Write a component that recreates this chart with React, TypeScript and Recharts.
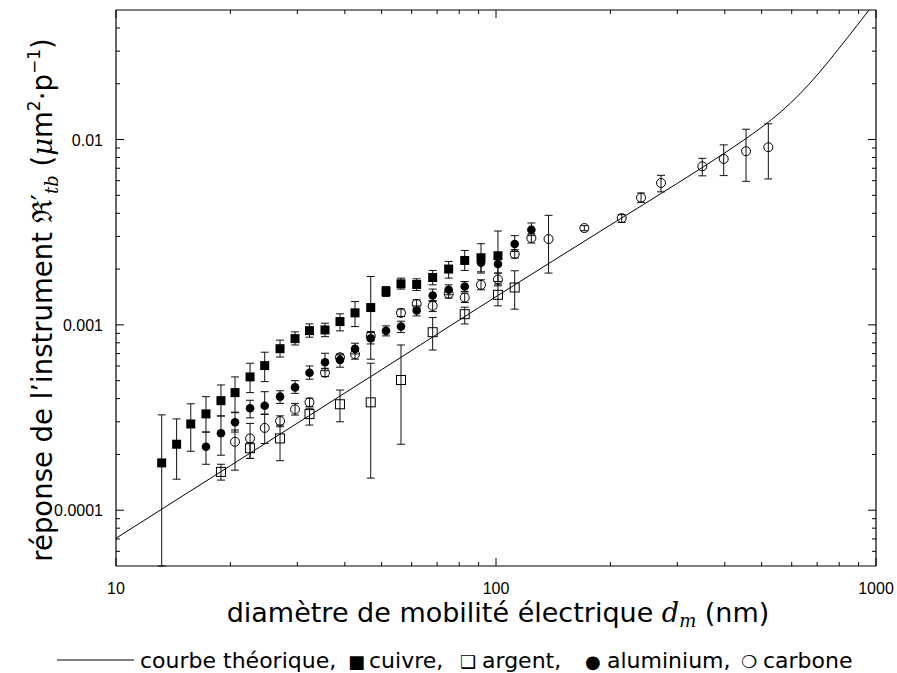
import React from 'react';
import { ComposedChart, XAxis, YAxis, Scatter, Line, ErrorBar } from 'recharts';

// ---------- tick values & labels ----------
const xTicks = [10, 20, 30, 40, 50, 60, 70, 80, 90, 100, 200, 300, 400, 500, 600, 700, 800, 900, 1000];
const xMajor = [10, 100, 1000];
const xMajorLabels = ['10', '100', '1000'];
const yTicks = [
  6e-5, 7e-5, 8e-5, 9e-5, 1e-4, 2e-4, 3e-4, 4e-4, 5e-4, 6e-4, 7e-4, 8e-4, 9e-4,
  1e-3, 2e-3, 3e-3, 4e-3, 5e-3, 6e-3, 7e-3, 8e-3, 9e-3, 1e-2, 2e-2, 3e-2, 4e-2,
];
const yMajor = [1e-4, 1e-3, 1e-2];
const yMajorLabels = ['0.0001', '0.001', '0.01'];

// ---------- theoretical curve ----------
const theoD = [10, 20, 50, 100, 200, 300, 355, 398, 447, 501, 562, 631, 708, 794, 891, 1000];
const theoR = [7.06e-5, 1.74e-4, 5.73e-4, 1.42e-3, 3.46e-3, 5.8e-3, 7.22e-3, 8.41e-3, 9.88e-3, 1.168e-2, 1.411e-2, 1.767e-2, 2.289e-2, 3.053e-2, 4.12e-2, 5.59e-2];

// ---------- cuivre ----------
const cuivreD = [13.19, 14.44, 15.73, 17.25, 18.89, 20.57, 22.53, 24.62, 27.02, 29.59, 32.3, 35.48, 38.85, 42.56, 46.81, 51.35, 56.23, 61.83, 68.13, 75.06, 82.73, 91.32, 101.2];
const cuivreR = [1.8e-4, 2.27e-4, 2.92e-4, 3.31e-4, 3.9e-4, 4.31e-4, 5.24e-4, 6.03e-4, 7.44e-4, 8.43e-4, 9.31e-4, 9.39e-4, 1.042e-3, 1.161e-3, 1.24e-3, 1.514e-3, 1.666e-3, 1.652e-3, 1.802e-3, 2.001e-3, 2.226e-3, 2.302e-3, 2.36e-3];
const cuivreLo = [5.0e-5, 1.47e-4, 2.08e-4, 2.64e-4, 3.22e-4, 3.36e-4, 4.31e-4, 4.94e-4, 6.71e-4, 7.79e-4, 8.58e-4, 8.64e-4, 9.28e-4, 9.79e-4, 6.53e-4, 1.422e-3, 1.56e-3, 1.532e-3, 1.645e-3, 1.788e-3, 1.966e-3, 1.903e-3, 1.714e-3];
const cuivreHi = [3.27e-4, 3.11e-4, 3.75e-4, 4.1e-4, 4.74e-4, 5.24e-4, 6.21e-4, 7.12e-4, 8.27e-4, 9.17e-4, 1.012e-3, 1.021e-3, 1.147e-3, 1.336e-3, 1.824e-3, 1.611e-3, 1.788e-3, 1.772e-3, 1.966e-3, 2.199e-3, 2.521e-3, 2.741e-3, 3.21e-3];

// ---------- argent ----------
const argentD = [18.89, 22.53, 27.02, 32.3, 38.85, 46.81, 56.23, 68.13, 82.73, 101.2, 112.0];
const argentR = [1.61e-4, 2.16e-4, 2.44e-4, 3.3e-4, 3.73e-4, 3.82e-4, 5.04e-4, 9.13e-4, 1.142e-3, 1.453e-3, 1.591e-3];
const argentLo = [1.453e-4, 1.903e-4, 1.85e-4, 2.88e-4, 3.0e-4, 1.49e-4, 2.27e-4, 7.32e-4, 1.012e-3, 1.267e-3, 1.216e-3];
const argentHi = [1.77e-4, 2.31e-4, 2.88e-4, 3.55e-4, 4.45e-4, 6.21e-4, 7.79e-4, 1.095e-3, 1.246e-3, 1.66e-3, 1.958e-3];

// ---------- aluminium ----------
const aluD = [17.25, 18.89, 20.57, 22.53, 24.62, 27.02, 29.59, 32.3, 35.48, 38.85, 42.56, 46.81, 51.35, 56.23, 61.83, 68.13, 75.06, 82.73, 91.32, 101.2, 112.0, 123.9];
const aluR = [2.2e-4, 2.6e-4, 2.98e-4, 3.55e-4, 3.66e-4, 4.1e-4, 4.6e-4, 5.52e-4, 6.28e-4, 6.47e-4, 7.42e-4, 8.47e-4, 9.28e-4, 9.79e-4, 1.195e-3, 1.44e-3, 1.546e-3, 1.611e-3, 2.163e-3, 2.129e-3, 2.731e-3, 3.263e-3];
const aluLo = [1.77e-4, 1.98e-4, 2.64e-4, 3.15e-4, 3.3e-4, 3.77e-4, 4.27e-4, 5.09e-4, 5.66e-4, 5.91e-4, 6.97e-4, 7.89e-4, 8.72e-4, 9.09e-4, 1.118e-3, 1.336e-3, 1.453e-3, 1.514e-3, 1.934e-3, 1.903e-3, 2.489e-3, 3.03e-3];
const aluHi = [2.64e-4, 3.23e-4, 3.38e-4, 3.92e-4, 4.36e-4, 4.41e-4, 5.0e-4, 6.0e-4, 7.03e-4, 6.88e-4, 7.96e-4, 9.09e-4, 9.88e-4, 1.047e-3, 1.267e-3, 1.56e-3, 1.645e-3, 1.714e-3, 2.39e-3, 2.339e-3, 3.03e-3, 3.546e-3];

// ---------- carbone ----------
const carbD = [20.57, 22.53, 24.62, 27.02, 29.59, 32.3, 35.48, 38.85, 42.56, 46.81, 56.23, 61.83, 68.13, 75.06, 82.73, 91.32, 101.2, 112.0, 123.9, 137.5, 170.8, 214.2, 240.8, 271.8, 349.1, 397.4, 455.0, 520.8];
const carbR = [2.34e-4, 2.44e-4, 2.78e-4, 3.03e-4, 3.5e-4, 3.82e-4, 5.52e-4, 6.69e-4, 6.94e-4, 8.72e-4, 1.161e-3, 1.299e-3, 1.267e-3, 1.471e-3, 1.405e-3, 1.645e-3, 1.758e-3, 2.41e-3, 2.941e-3, 2.904e-3, 3.33e-3, 3.77e-3, 4.86e-3, 5.83e-3, 7.17e-3, 7.86e-3, 8.65e-3, 9.09e-3];
const carbLo = [1.645e-4, 1.903e-4, 2.29e-4, 2.82e-4, 3.26e-4, 3.62e-4, 5.26e-4, 6.41e-4, 6.53e-4, 8.22e-4, 1.109e-3, 1.231e-3, 1.18e-3, 1.394e-3, 1.32e-3, 1.546e-3, 1.625e-3, 2.293e-3, 2.764e-3, 1.903e-3, 3.22e-3, 3.57e-3, 4.58e-3, 5.22e-3, 6.37e-3, 6.39e-3, 5.95e-3, 6.13e-3];
const carbHi = [2.71e-4, 2.94e-4, 3.29e-4, 3.23e-4, 3.77e-4, 4.02e-4, 5.83e-4, 6.97e-4, 7.32e-4, 9.2e-4, 1.216e-3, 1.365e-3, 1.353e-3, 1.546e-3, 1.484e-3, 1.751e-3, 1.903e-3, 2.543e-3, 3.1e-3, 3.9e-3, 3.43e-3, 3.93e-3, 5.15e-3, 6.41e-3, 7.92e-3, 9.36e-3, 1.137e-2, 1.216e-2];

// ---------- legend ----------
const legendItems = ['courbe théorique,', '■', 'cuivre,', '❑', 'argent,', '●', 'aluminium,', '❍', 'carbone'];

type Row = { d: number; r: number; err?: [number, number] };
const rows = (d: number[], r: number[], lo: number[], hi: number[]): Row[] =>
  d.map((x, i) => ({ d: x, r: r[i], err: [r[i] - lo[i], hi[i] - r[i]] }));

const theoData: Row[] = theoD.map((x, i) => ({ d: x, r: theoR[i] }));
const cuivreData = rows(cuivreD, cuivreR, cuivreLo, cuivreHi);
const argentData = rows(argentD, argentR, argentLo, argentHi);
const aluData = rows(aluD, aluR, aluLo, aluHi);
const carbData = rows(carbD, carbR, carbLo, carbHi);

const W = 897;
const H = 673;
const TICK_FONT = "'Liberation Sans', Arial, sans-serif";
const TEXT_FONT = "'DejaVu Sans', sans-serif";
const MATH_FONT = "'DejaVu Serif', serif";
const MAJ = 8;
const MIN = 4;

const BottomTick = (p: any) => {
  const v = p.payload.value;
  const idx = xMajor.indexOf(v);
  const len = idx >= 0 ? MAJ : MIN;
  return (
    <g>
      <line x1={p.x} x2={p.x} y1={p.y} y2={p.y - len} stroke="#000" strokeWidth={1} />
      {idx >= 0 && (
        <text x={p.x} y={p.y + 28} textAnchor="middle" fontSize={16} fontFamily={TICK_FONT} fill="#000">
          {xMajorLabels[idx]}
        </text>
      )}
    </g>
  );
};
const TopTick = (p: any) => {
  const v = p.payload.value;
  const len = xMajor.indexOf(v) >= 0 ? MAJ : MIN;
  return <line x1={p.x} x2={p.x} y1={p.y} y2={p.y + len} stroke="#000" strokeWidth={1} />;
};
const LeftTick = (p: any) => {
  const v = p.payload.value;
  const idx = yMajor.indexOf(v);
  const len = idx >= 0 ? MAJ : MIN;
  return (
    <g>
      <line x1={p.x} x2={p.x + len} y1={p.y} y2={p.y} stroke="#000" strokeWidth={1} />
      {idx >= 0 && (
        <text x={p.x - 13} y={p.y + 6} textAnchor="end" fontSize={16} fontFamily={TICK_FONT} fill="#000">
          {yMajorLabels[idx]}
        </text>
      )}
    </g>
  );
};
const RightTick = (p: any) => {
  const v = p.payload.value;
  const len = yMajor.indexOf(v) >= 0 ? MAJ : MIN;
  return <line x1={p.x} x2={p.x - len} y1={p.y} y2={p.y} stroke="#000" strokeWidth={1} />;
};

const FilledSquare = (p: any) => <rect x={p.cx - 4.5} y={p.cy - 4.5} width={9} height={9} fill="#000" />;
const OpenSquare = (p: any) => (
  <rect x={p.cx - 4.5} y={p.cy - 4.5} width={9} height={9} fill="none" stroke="#000" strokeWidth={1} />
);
const FilledCircle = (p: any) => <circle cx={p.cx} cy={p.cy} r={4.3} fill="#000" />;
const OpenCircle = (p: any) => <circle cx={p.cx} cy={p.cy} r={4.5} fill="none" stroke="#000" strokeWidth={1} />;

const errBar = <ErrorBar dataKey="err" direction="y" width={4} stroke="#111" strokeWidth={1} isAnimationActive={false} />;

// x start positions of legend pieces (odd indices are the marker glyphs)
const legendX = [140, 348, 369, 460, 482, 585, 607, 741, 763];

export default function App() {
  return (
    <div style={{ position: 'absolute', left: 0, top: 0, width: W, height: H, background: '#fff' }}>
      <ComposedChart width={W} height={H} margin={{ top: 9, right: 20, bottom: 77, left: 56 }}>
        <XAxis
          xAxisId={0}
          dataKey="d"
          type="number"
          scale="log"
          domain={[10, 1000]}
          allowDataOverflow
          ticks={xTicks}
          interval={0}
          height={30}
          tickSize={0}
          tickMargin={0}
          tickLine={false}
          axisLine={{ stroke: '#000', strokeWidth: 1.2 }}
          tick={<BottomTick />}
        />
        <XAxis
          xAxisId="top"
          orientation="top"
          dataKey="d"
          type="number"
          scale="log"
          domain={[10, 1000]}
          allowDataOverflow
          ticks={xTicks}
          interval={0}
          height={1}
          tickSize={0}
          tickMargin={0}
          tickLine={false}
          axisLine={{ stroke: '#000', strokeWidth: 1.2 }}
          tick={<TopTick />}
        />
        <YAxis
          yAxisId={0}
          dataKey="r"
          type="number"
          scale="log"
          domain={[5e-5, 0.05]}
          allowDataOverflow
          ticks={yTicks}
          interval={0}
          width={60}
          tickSize={0}
          tickMargin={0}
          tickLine={false}
          axisLine={{ stroke: '#000', strokeWidth: 1.2 }}
          tick={<LeftTick />}
        />
        <YAxis
          yAxisId="right"
          orientation="right"
          dataKey="r"
          type="number"
          scale="log"
          domain={[5e-5, 0.05]}
          allowDataOverflow
          ticks={yTicks}
          interval={0}
          width={1}
          tickSize={0}
          tickMargin={0}
          tickLine={false}
          axisLine={{ stroke: '#000', strokeWidth: 1.2 }}
          tick={<RightTick />}
        />
        <Line
          xAxisId="top"
          yAxisId="right"
          data={theoData}
          dataKey="r"
          type="monotone"
          stroke="#000"
          strokeWidth={1}
          dot={false}
          activeDot={false}
          isAnimationActive={false}
        />
        <Scatter xAxisId={0} yAxisId={0} data={cuivreData} dataKey="r" shape={FilledSquare} isAnimationActive={false}>
          {errBar}
        </Scatter>
        <Scatter xAxisId={0} yAxisId={0} data={argentData} dataKey="r" shape={OpenSquare} isAnimationActive={false}>
          {errBar}
        </Scatter>
        <Scatter xAxisId={0} yAxisId={0} data={aluData} dataKey="r" shape={FilledCircle} isAnimationActive={false}>
          {errBar}
        </Scatter>
        <Scatter xAxisId={0} yAxisId={0} data={carbData} dataKey="r" shape={OpenCircle} isAnimationActive={false}>
          {errBar}
        </Scatter>
      </ComposedChart>
      <svg width={W} height={H} style={{ position: 'absolute', left: 0, top: 0, pointerEvents: 'none' }}>
        <text
          transform="translate(52,300) rotate(-90)"
          textAnchor="middle"
          fontSize={27.5}
          fontFamily={TEXT_FONT}
          fill="#000"
        >
          <tspan>réponse de l’instrument </tspan>
          <tspan fontFamily={MATH_FONT}>ℜ′</tspan>
          <tspan fontFamily={MATH_FONT} fontStyle="italic" fontSize={18} dy={6}>tb</tspan>
          <tspan dy={-6}> (</tspan>
          <tspan fontFamily={MATH_FONT} fontStyle="italic">μ</tspan>
          <tspan>m</tspan>
          <tspan fontSize={17} dy={-12}>2</tspan>
          <tspan dy={12}>·p</tspan>
          <tspan fontSize={17} dy={-12}>−1</tspan>
          <tspan dy={12}>)</tspan>
        </text>
        <text x={498} y={622} textAnchor="middle" fontSize={27} fontFamily={TEXT_FONT} fill="#000">
          <tspan>diamètre de mobilité électrique </tspan>
          <tspan fontFamily={MATH_FONT} fontStyle="italic">d</tspan>
          <tspan fontFamily={MATH_FONT} fontStyle="italic" fontSize={18} dy={5}>m</tspan>
          <tspan dy={-5}> (nm)</tspan>
        </text>
        <line x1={57} x2={134} y1={660} y2={660} stroke="#000" strokeWidth={1} />
        <text y={668} fontSize={22} fontFamily={TEXT_FONT} fill="#000">
          {legendItems.map((t, i) => (
            <tspan key={i} x={legendX[i]} fontSize={i % 2 === 1 ? 18 : 22}>
              {t}
            </tspan>
          ))}
        </text>
      </svg>
    </div>
  );
}
